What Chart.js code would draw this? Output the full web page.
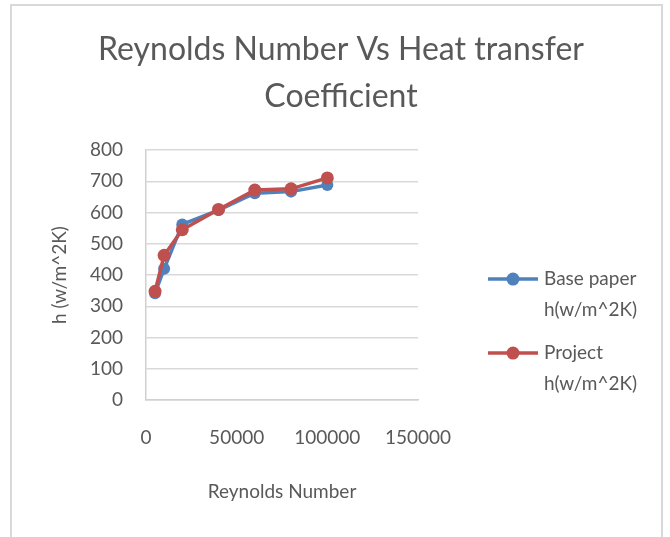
<!DOCTYPE html>
<html>
<head>
<meta charset="utf-8">
<script src="https://cdn.jsdelivr.net/npm/chart.js@4.4.1/dist/chart.umd.min.js"></script>
<style>
    body { margin: 0; background: #fff; }
    #wrap { position: relative; width: 670px; height: 537px; }
    #frame {
        position: absolute; left: 10px; top: 4px; width: 653px; height: 560px;
        border: 2px solid #d9d9d9; box-sizing: border-box; pointer-events: none;
    }
</style>
</head>
<body>
<div id="wrap">
    <canvas id="chart" width="670" height="537"></canvas>
    <div id="frame"></div>
</div>
<script>
// Reynolds number (x) and heat transfer coefficient h (y)
const reynolds = [5000, 10000, 20000, 40000, 60000, 80000, 100000];
const baseValues = [342, 420, 562, 608, 662, 667, 688];
const projectValues = [348, 463, 545, 610, 672, 676, 711];

const seriesNames = [
    ['Base paper', 'h(w/m^2K)'],
    ['Project', 'h(w/m^2K)']
];
const seriesColors = ['#4F81BD', '#C0504D'];

const yTicks = [0, 100, 200, 300, 400, 500, 600, 700, 800];
const xTicks = [0, 50000, 100000, 150000];

const textColor = '#595959';
const fontFamily = 'Lato, "Open Sans", sans-serif';

function toPoints(values) {
    return reynolds.map((x, i) => ({ x: x, y: values[i] }));
}

// legend with two-line labels, drawn in the space kept by the right axis
const sideLegend = {
    id: 'sideLegend',
    afterDraw(chart) {
        const ctx = chart.ctx;
        const area = chart.chartArea;
        const lineX = area.right + 70;
        ctx.save();
        ctx.font = '19px ' + fontFamily;
        ctx.textBaseline = 'middle';
        ctx.textAlign = 'left';
        chart.data.datasets.forEach((ds, i) => {
            const y = area.top + 129 + i * 74;
            ctx.strokeStyle = ds.borderColor;
            ctx.lineWidth = 3.5;
            ctx.beginPath();
            ctx.moveTo(lineX, y);
            ctx.lineTo(lineX + 50, y);
            ctx.stroke();
            ctx.fillStyle = ds.borderColor;
            ctx.beginPath();
            ctx.arc(lineX + 25, y, 6.5, 0, Math.PI * 2);
            ctx.fill();
            ctx.fillStyle = textColor;
            seriesNames[i].forEach((line, j) => {
                ctx.fillText(line, lineX + 56, y + j * 31);
            });
        });
        ctx.restore();
    }
};

new Chart(document.getElementById('chart'), {
    type: 'line',
    data: {
        datasets: [
            {
                label: seriesNames[0].join(' '),
                data: toPoints(baseValues),
                borderColor: seriesColors[0],
                backgroundColor: seriesColors[0],
                borderWidth: 3.5,
                pointRadius: 6,
                pointBorderWidth: 0,
                tension: 0,
                order: 2
            },
            {
                label: seriesNames[1].join(' '),
                data: toPoints(projectValues),
                borderColor: seriesColors[1],
                backgroundColor: seriesColors[1],
                borderWidth: 3.5,
                pointRadius: 6.5,
                pointBorderWidth: 0,
                tension: 0,
                order: 1
            }
        ]
    },
    options: {
        responsive: false,
        animation: false,
        layout: {
            padding: { left: 12, right: 0, top: 0, bottom: 0 }
        },
        plugins: {
            legend: { display: false },
            tooltip: { enabled: false },
            title: {
                display: true,
                text: ['Reynolds Number Vs Heat transfer', 'Coefficient'],
                color: textColor,
                font: { family: fontFamily, size: 32, weight: 'normal', lineHeight: 1.47 },
                padding: { top: 26, bottom: 30 }
            }
        },
        scales: {
            x: {
                type: 'linear',
                min: 0,
                max: 150000,
                afterBuildTicks: scale => {
                    scale.ticks = xTicks.map(v => ({ value: v }));
                },
                afterFit: scale => { scale.height = 137; },
                grid: { display: false, drawTicks: false },
                border: { display: true, color: '#d0d0d0', width: 1.5 },
                ticks: {
                    color: textColor,
                    padding: 26,
                    maxRotation: 0,
                    font: { family: fontFamily, size: 19 },
                    callback: v => String(v)
                },
                title: {
                    display: true,
                    text: 'Reynolds Number',
                    color: textColor,
                    font: { family: fontFamily, size: 19 },
                    padding: { top: 0, bottom: 34 }
                }
            },
            y: {
                min: 0,
                max: 800,
                afterBuildTicks: scale => {
                    scale.ticks = yTicks.map(v => ({ value: v }));
                },
                afterFit: scale => { scale.width = 134; },
                grid: { color: '#d9d9d9', lineWidth: 1.5, drawTicks: false },
                border: { display: true, color: '#d0d0d0', width: 1.5 },
                ticks: {
                    color: textColor,
                    padding: 23,
                    font: { family: fontFamily, size: 19 },
                    callback: v => String(v)
                },
                title: {
                    display: true,
                    text: 'h (w/m^2K)',
                    color: textColor,
                    font: { family: fontFamily, size: 19 },
                    padding: { top: 36, bottom: 0 }
                }
            },
            side: {
                position: 'right',
                display: true,
                afterFit: scale => { scale.width = 252; },
                grid: { display: false, drawTicks: false },
                border: { display: false },
                ticks: { display: false }
            }
        }
    },
    plugins: [sideLegend]
});
</script>
</body>
</html>
